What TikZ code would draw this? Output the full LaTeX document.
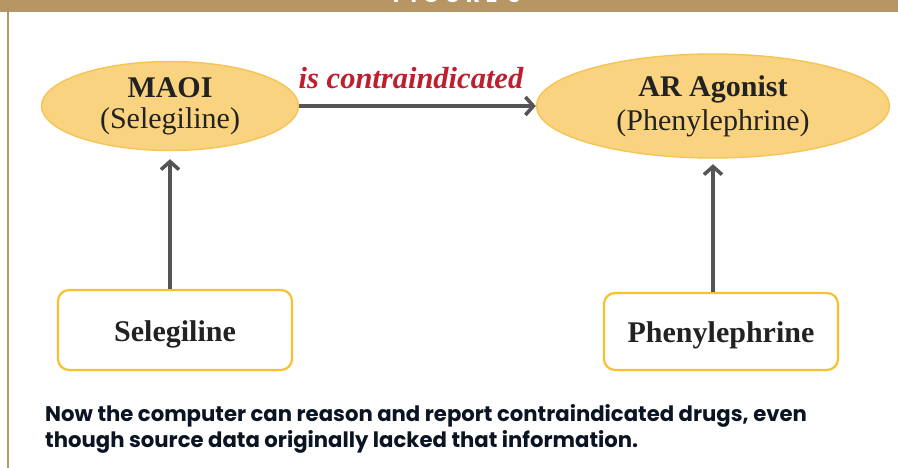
\documentclass[tikz,border=0pt]{standalone}
\usepackage{fontspec}
\setmainfont{Liberation Serif}
\newfontfamily\capfont{Poppins}
\usetikzlibrary{arrows.meta,shapes.geometric}
\definecolor{tanbar}{RGB}{184,150,100}
\definecolor{ellfill}{RGB}{249,211,128}
\definecolor{elldraw}{RGB}{246,196,84}
\definecolor{boxdraw}{RGB}{250,193,45}
\definecolor{lblred}{RGB}{190,30,45}
\definecolor{conngray}{RGB}{85,85,85}
\definecolor{txtdark}{RGB}{34,34,34}
\definecolor{navy}{RGB}{10,20,35}
\begin{document}
\begin{tikzpicture}[x=1pt,y=-1pt,
  ell/.style={ellipse, fill=ellfill, draw=elldraw, line width=1.4pt, inner sep=0pt,
    align=center, text=txtdark},
  drugbox/.style={rectangle, rounded corners=11pt, draw=boxdraw, line width=2.2pt, fill=white,
    minimum width=234pt, text=txtdark, font=\fontsize{30}{32}\selectfont\bfseries,
    text height=24pt, text depth=2pt},
  conn/.style={draw=conngray, line width=3.6pt, -{Straight Barb[length=8pt,width=18pt]}},
  lbl/.style={text=lblred, font=\fontsize{30.5}{32}\selectfont\bfseries\itshape, inner sep=0pt},
  note/.style={text=navy, font=\capfont\bfseries\fontsize{21.2}{24}\selectfont, inner sep=0pt}
]
\useasboundingbox (0,0) rectangle (898,468);
\clip (0,0) rectangle (898,468);
\fill[tanbar] (0,0) rectangle (898,12);
\fill[tanbar] (7,12) rectangle (9.2,468);
\node[text=white, font=\capfont\bfseries\fontsize{22}{24}\selectfont\addfontfeatures{LetterSpace=25}, anchor=base, inner sep=0pt] (fig) at (457,2.5) {FIGURE 3};

\node[ell, minimum width=257pt, minimum height=89pt,
  font=\fontsize{30}{31}\selectfont] (maoi) at (170,106) {\textbf{MAOI}\\(Selegiline)};
\node[ell, minimum width=353pt, minimum height=104pt,
  font=\fontsize{30}{34}\selectfont] (ar) at (713,106) {\textbf{AR Agonist}\\(Phenylephrine)};

\node[drugbox, minimum height=80pt] (sel) at (175,330) {Selegiline};
\node[drugbox, minimum height=77pt] (phe) at (721,331.5) {Phenylephrine};

\draw[conn] (maoi.east) -- (ar.west);
\node[lbl, anchor=base] (lab) at (411,89) {is contraindicated};

\draw[conn, shorten >=8pt] (sel.north -| maoi.south) -- (maoi.south);
\draw[conn, shorten >=5.5pt] (phe.north -| ar.south) -- (ar.south);

\node[note, anchor=base west] (line1) at (45,421) {Now the computer can reason and report contraindicated drugs, even};
\node[note, anchor=base west] (line2) at (45,447) {though source data originally lacked that information.};
\end{tikzpicture}
\end{document}
